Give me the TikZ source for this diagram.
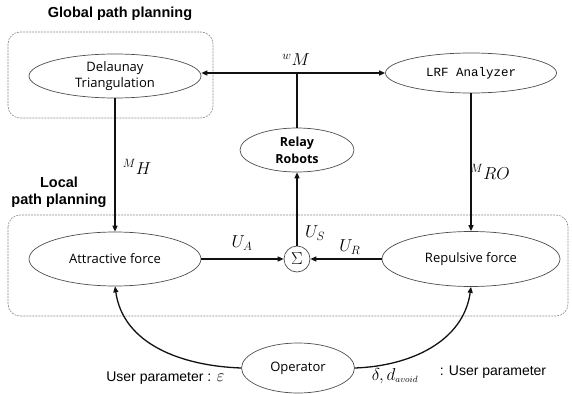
\documentclass[tikz,border=0pt]{standalone}
\usepackage{fontspec}
\setmainfont{Open Sans}
\setsansfont{Liberation Sans}
\setmonofont{Liberation Mono}
\usetikzlibrary{shapes.geometric,arrows.meta}
\definecolor{edge}{HTML}{111111}
\definecolor{rim}{HTML}{4D4D4D}
\definecolor{box}{HTML}{8C8C8C}
\tikzset{
  blk/.style={ellipse, draw=rim, line width=0.7pt, inner sep=0pt, align=center, font=\fontsize{13}{16}\selectfont},
  sum/.style={circle, draw=rim, line width=0.7pt, minimum size=26pt, inner sep=0pt, font=\fontsize{17}{19}\selectfont},
  flow/.style={draw=edge, line width=1.3pt, -{Triangle[length=6pt,width=5pt]}},
  wire/.style={draw=edge, line width=1.3pt},
  zone/.style={draw=box, dash pattern=on 2pt off 1pt, line width=0.6pt, rounded corners=12pt},
  ttl/.style={font=\sffamily\bfseries\fontsize{14.5}{17}\selectfont, align=center},
  sym/.style={font=\fontsize{18}{20}\selectfont},
  usr/.style={font=\sffamily\fontsize{14}{16}\selectfont},
}
\begin{document}
\begin{tikzpicture}[x=1pt, y=-1pt]
  \useasboundingbox (0,0) rectangle (572,393);

  % planning zones
  \draw[zone] (8,32) rectangle (213,118);
  \draw[zone] (8,215) rectangle (568,316);
  \node[ttl] (gtl) at (120,14) {Global path planning};
  \node[ttl] (ltl) at (59,192) {Local\\path planning};

  % blocks
  \node[blk, minimum width=172pt, minimum height=44pt] (del) at (115,76) {Delaunay\\Triangulation};
  \node[blk, minimum width=171pt, minimum height=40pt, font=\ttfamily\fontsize{12.5}{14}\selectfont] (lrf) at (471,73) {LRF Analyzer};
  \node[blk, minimum width=114pt, minimum height=44pt, font=\bfseries\fontsize{12.5}{17}\selectfont] (relay) at (297,150) {Relay\\Robots};
  \node[blk, minimum width=172pt, minimum height=54pt] (att) at (115,259) {Attractive force};
  \node[sum] (sig) at (297,259) {$\Sigma$};
  \node[blk, minimum width=178pt, minimum height=55pt] (rep) at (471,259) {Repulsive force};
  \node[blk, minimum width=113pt, minimum height=50pt] (op) at (298,368) {Operator};
  \coordinate (jm) at (297,73);

  % connectors
  \draw[flow] (jm) -- (del.east |- jm);
  \draw[flow] (jm) -- (lrf.west);
  \draw[wire] (relay.north) -- (jm);
  \draw[flow] (del) -- (att);
  \draw[flow] (lrf) -- (rep);
  \draw[flow] (att) -- (sig);
  \draw[flow] (rep) -- (sig);
  \draw[flow] (sig) -- (relay);
  \draw[flow] (op.west) to[out=178, in=-82] (att.south);
  \draw[flow] (op.east) to[out=2, in=-98] (rep.south);

  % signal labels
  \node[sym] (wm) at (296,60) {$^{w}M$};
  \node[sym] (mh) at (137,167) {$^{M}H$};
  \node[sym] (mro) at (490,172) {$^{M}RO$};
  \node[sym] (ua) at (242,243) {$U_A$};
  \node[sym] (us) at (315,233) {$U_S$};
  \node[sym] (ur) at (350,247) {$U_R$};
  \node[usr, anchor=east] (eps) at (228,378) {User parameter : {\fontsize{18}{20}\selectfont$\varepsilon$}};
  \node[sym] (dl) at (395,376) {$\delta,d_{\scriptscriptstyle avoid}$};
  \node[usr] (up) at (493,372) {: User parameter};
\end{tikzpicture}
\end{document}
